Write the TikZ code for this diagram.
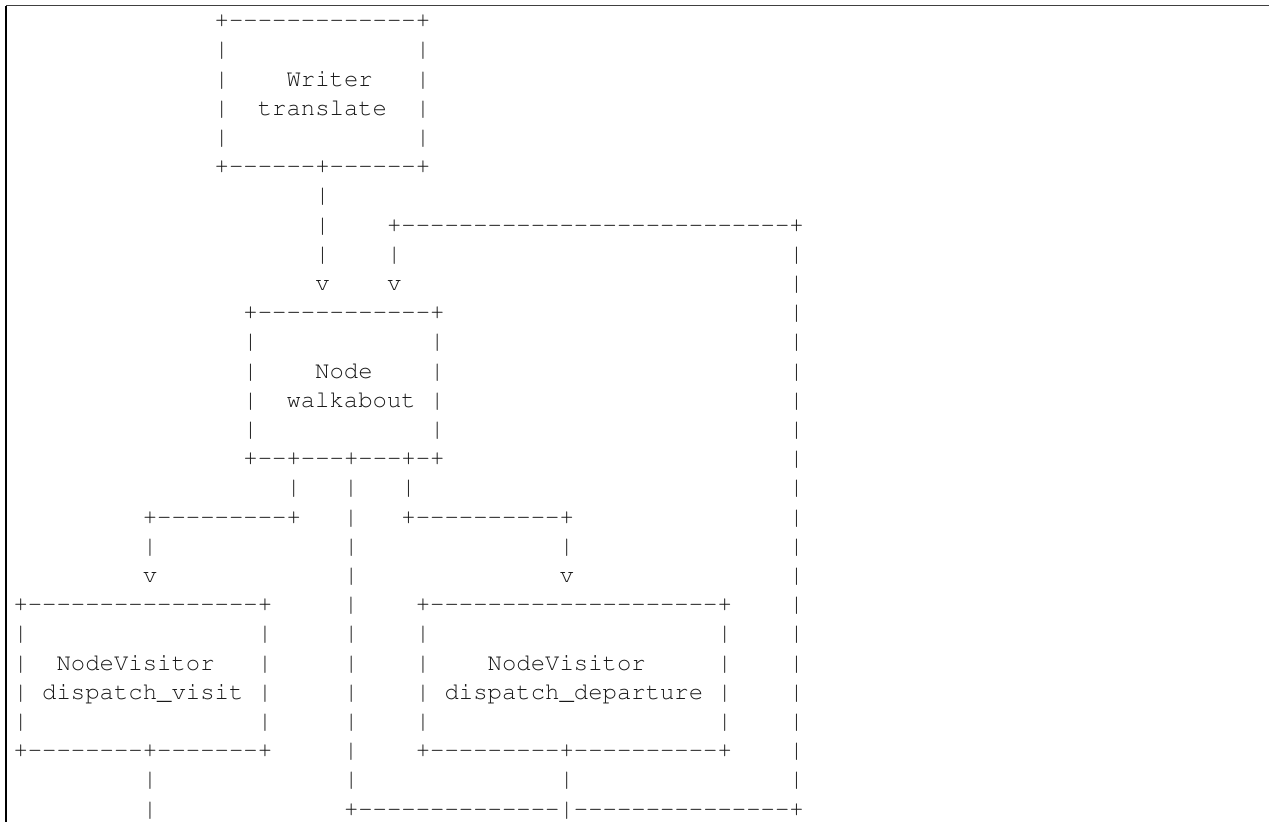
\documentclass[tikz,border=0pt]{standalone}
\usepackage[T1]{fontenc}
\usepackage{courier}
\newcommand\mytt{\fontencoding{T1}\fontfamily{pcr}\fontseries{m}\fontshape{n}\fontsize{23.95pt}{29.2pt}\selectfont}
\newlength\chw
\setlength\chw{14.37pt}
\newcount\dcnt
\newcommand\gap[1]{\hspace*{#1\chw}}
\newcommand\dashes[1]{\dcnt=#1\relax\loop\ifnum\dcnt>0 -\kern0pt\advance\dcnt by -1\relax\repeat}
\newcommand\asciirow[2]{\node[rowtxt] (r#1) at (13.5,{822-27.7-29.2*#1}) {#2};}
\tikzset{
  rowtxt/.style={anchor=base west, inner sep=0pt, outer sep=0pt, font=\mytt, text=black!90},
  frametop/.style={draw=black!75, line width=1pt},
  frameleft/.style={draw=black, line width=1.3pt}
}
\begin{document}
\begin{tikzpicture}[x=1pt,y=1pt]
\fill[white] (0,0) rectangle (1269,822);
\useasboundingbox (0,0) rectangle (1269,822);
\coordinate (ftl) at (6,816);
\coordinate (ftr) at (1269,816);
\coordinate (fbl) at (6,0);
\draw[frametop] (ftl) -- (ftr);
\draw[frameleft] (ftl) -- (fbl);
\asciirow{0}{\gap{14}+\dashes{13}+}
\asciirow{1}{\gap{14}|\gap{13}|}
\asciirow{2}{\gap{14}|\gap{4}Writer\gap{3}|}
\asciirow{3}{\gap{14}|\gap{2}translate\gap{2}|}
\asciirow{4}{\gap{14}|\gap{13}|}
\asciirow{5}{\gap{14}+\dashes{6}+\dashes{6}+}
\asciirow{6}{\gap{21}|}
\asciirow{7}{\gap{21}|\gap{4}+\dashes{27}+}
\asciirow{8}{\gap{21}|\gap{4}|\gap{27}|}
\asciirow{9}{\gap{21}v\gap{4}v\gap{27}|}
\asciirow{10}{\gap{16}+\dashes{12}+\gap{24}|}
\asciirow{11}{\gap{16}|\gap{12}|\gap{24}|}
\asciirow{12}{\gap{16}|\gap{4}Node\gap{4}|\gap{24}|}
\asciirow{13}{\gap{16}|\gap{2}walkabout\gap{1}|\gap{24}|}
\asciirow{14}{\gap{16}|\gap{12}|\gap{24}|}
\asciirow{15}{\gap{16}+\dashes{2}+\dashes{3}+\dashes{3}+\dashes{1}+\gap{24}|}
\asciirow{16}{\gap{19}|\gap{3}|\gap{3}|\gap{26}|}
\asciirow{17}{\gap{9}+\dashes{9}+\gap{3}|\gap{3}+\dashes{10}+\gap{15}|}
\asciirow{18}{\gap{9}|\gap{13}|\gap{14}|\gap{15}|}
\asciirow{19}{\gap{9}v\gap{13}|\gap{14}v\gap{15}|}
\asciirow{20}{+\dashes{16}+\gap{5}|\gap{4}+\dashes{20}+\gap{4}|}
\asciirow{21}{|\gap{16}|\gap{5}|\gap{4}|\gap{20}|\gap{4}|}
\asciirow{22}{|\gap{2}NodeVisitor\gap{3}|\gap{5}|\gap{4}|\gap{4}NodeVisitor\gap{5}|\gap{4}|}
\asciirow{23}{|\gap{1}dispatch\_visit\gap{1}|\gap{5}|\gap{4}|\gap{1}dispatch\_departure\gap{1}|\gap{4}|}
\asciirow{24}{|\gap{16}|\gap{5}|\gap{4}|\gap{20}|\gap{4}|}
\asciirow{25}{+\dashes{8}+\dashes{7}+\gap{5}|\gap{4}+\dashes{9}+\dashes{10}+\gap{4}|}
\asciirow{26}{\gap{9}|\gap{13}|\gap{14}|\gap{15}|}
\asciirow{27}{\gap{9}|\gap{13}+\dashes{14}|\dashes{15}+}
\end{tikzpicture}
\end{document}
